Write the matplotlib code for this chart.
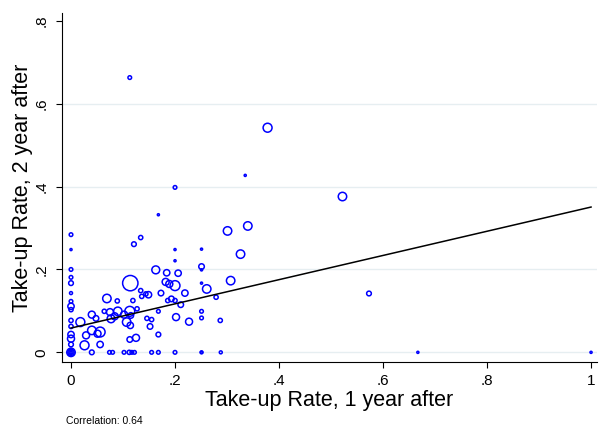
import numpy as np
import matplotlib.pyplot as plt

plt.rcParams['font.family'] = ['Liberation Sans', 'DejaVu Sans']

# take-up rate after 1 year / after 2 years, weight = bubble size
take1 = [0, 0, 0, 0, 0, 0, 0, 0, 0, 0, 0, 0, 0, 0, 0, 0, 0, 0,
         0.018, 0.026, 0.029, 0.040, 0.048, 0.040, 0.051, 0.056, 0.056,
         0.064, 0.069, 0.075, 0.077, 0.084, 0.090, 0.089, 0.102, 0.107,
         0.113, 0.114, 0.113, 0.115, 0.119, 0.125, 0.127, 0.114, 0.121,
         0.134, 0.113, 0.134, 0.136, 0.144, 0.149, 0.146, 0.152, 0.155,
         0.163, 0.168, 0.168, 0.168, 0.173, 0.182, 0.184, 0.186, 0.189,
         0.193, 0.200, 0.200, 0.200, 0.200, 0.200, 0.202, 0.206, 0.211,
         0.219, 0.227, 0.251, 0.251, 0.251, 0.251, 0.251, 0.251, 0.261,
         0.279, 0.287, 0.301, 0.307, 0.326, 0.340, 0.335, 0.378, 0.522,
         0.573,
         0.040, 0.074, 0.080, 0.102, 0.112, 0.117, 0.122, 0.155, 0.168,
         0.200, 0.251, 0.251, 0.288, 0.667, 1.0]
take2 = [0.284, 0.248, 0.200, 0.181, 0.167, 0.143, 0.123, 0.111, 0.103,
         0.077, 0.0625, 0.043, 0.033, 0.019, 0, 0, 0, 0,
         0.073, 0.017, 0.041, 0.091, 0.082, 0.053, 0.045, 0.049, 0.019,
         0.099, 0.130, 0.097, 0.081, 0.087, 0.099, 0.124, 0.091, 0.073,
         0.099, 0.065, 0.031, 0.089, 0.125, 0.035, 0.105, 0.167, 0.261,
         0.277, 0.663, 0.149, 0.135, 0.141, 0.139, 0.082, 0.0625, 0.079,
         0.199, 0.043, 0.099, 0.332, 0.143, 0.170, 0.192, 0.125, 0.165,
         0.129, 0.161, 0.221, 0.248, 0.398, 0.125, 0.085, 0.191, 0.115,
         0.143, 0.074, 0.249, 0.207, 0.199, 0.167, 0.099, 0.083, 0.153,
         0.133, 0.077, 0.293, 0.173, 0.237, 0.305, 0.427, 0.542, 0.376,
         0.142,
         0, 0, 0, 0, 0, 0, 0, 0, 0,
         0, 0, 0, 0, 0, 0]
weight = [3, 1, 3, 3, 5, 2, 3, 9, 4,
          4, 4, 9, 11, 5, 16, 9, 4, 1,
          18, 18, 11, 11, 7, 16, 11, 22, 9,
          4, 16, 11, 14, 11, 16, 4, 11, 16,
          22, 9, 7, 7, 4, 11, 4, 53, 5,
          4, 3, 4, 4, 4, 9, 4, 7, 4,
          14, 5, 3, 1, 7, 11, 9, 4, 11,
          7, 22, 1, 1, 3, 4, 11, 9, 7,
          9, 11, 1, 7, 1, 1, 3, 3, 16,
          4, 4, 16, 16, 16, 16, 1, 18, 16,
          5,
          5, 3, 3, 3, 4, 3, 3, 3, 3,
          3, 2, 1, 2, 1, 1]

# linear fit (intercept, slope)
fit_intercept = 0.0586
fit_slope = 0.292
correlation = 0.64
yticks = [0, 0.2, 0.4, 0.6, 0.8]
xticks = [0, 0.2, 0.4, 0.6, 0.8, 1]

x = np.array(take1)
y = np.array(take2)
w = np.array(weight)

fig = plt.figure(figsize=(5.99, 4.29), dpi=100)
ax = fig.add_axes([0.103, 0.1554, 0.8937, 0.8135])

for t in yticks[:-1]:
    ax.axhline(t, color='#e6eef1', lw=1.0, zorder=0)

ax.scatter(x, y, s=w * 2.3, facecolors='none', edgecolors='blue',
           linewidths=1.1, zorder=2)

xs = np.array([x.min(), x.max()])
ax.plot(xs, fit_intercept + fit_slope * xs, color='black', lw=1.1, zorder=3)

ax.set_xlim(-0.0179, 1.0115)
ax.set_ylim(-0.0241, 0.818)
ax.set_xticks(xticks)
ax.set_xticklabels(['0', '.2', '.4', '.6', '.8', '1'], fontsize=11)
ax.set_yticks(yticks)
ax.set_yticklabels(['0', '.2', '.4', '.6', '.8'], fontsize=11,
                   rotation=90, va='center')
ax.tick_params(axis='x', length=4.5, width=0.8, pad=4)
ax.tick_params(axis='y', length=4.5, width=0.8, pad=5)
ax.spines['top'].set_visible(False)
ax.spines['right'].set_visible(False)
ax.set_xlabel('Take-up Rate, 1 year after', fontsize=15.5, labelpad=1)
ax.set_ylabel('Take-up Rate, 2 year after', fontsize=15.5, labelpad=1)

fig.text(0.110, 0.0186, 'Correlation: %.2f' % correlation, fontsize=7.5,
         va='center')

fig.savefig('out.png', dpi=100)
